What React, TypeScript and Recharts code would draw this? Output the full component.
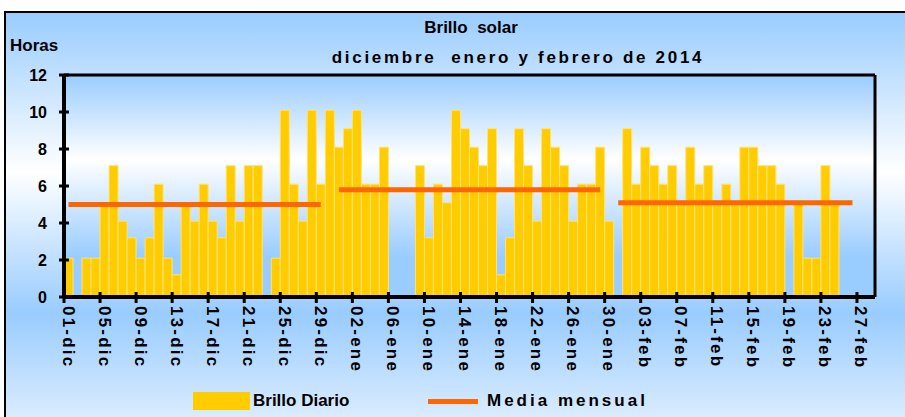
import { ComposedChart, Bar, Line, XAxis, YAxis, CartesianGrid, ReferenceLine, Legend } from "recharts";

// dias del periodo (categorias del eje X)
const dias = [
  "01-dic", "02-dic", "03-dic", "04-dic", "05-dic", "06-dic", "07-dic", "08-dic", "09-dic", "10-dic",
  "11-dic", "12-dic", "13-dic", "14-dic", "15-dic", "16-dic", "17-dic", "18-dic", "19-dic", "20-dic",
  "21-dic", "22-dic", "23-dic", "24-dic", "25-dic", "26-dic", "27-dic", "28-dic", "29-dic", "30-dic",
  "31-dic", "01-ene", "02-ene", "03-ene", "04-ene", "05-ene", "06-ene", "07-ene", "08-ene", "09-ene",
  "10-ene", "11-ene", "12-ene", "13-ene", "14-ene", "15-ene", "16-ene", "17-ene", "18-ene", "19-ene",
  "20-ene", "21-ene", "22-ene", "23-ene", "24-ene", "25-ene", "26-ene", "27-ene", "28-ene", "29-ene",
  "30-ene", "31-ene", "01-feb", "02-feb", "03-feb", "04-feb", "05-feb", "06-feb", "07-feb", "08-feb",
  "09-feb", "10-feb", "11-feb", "12-feb", "13-feb", "14-feb", "15-feb", "16-feb", "17-feb", "18-feb",
  "19-feb", "20-feb", "21-feb", "22-feb", "23-feb", "24-feb", "25-feb", "26-feb", "27-feb", "28-feb",
];

// horas de brillo solar por dia (null = sin dato)
const brilloDiario = [
  2.1, null, 2.1, 2.1, 5.0, 7.1, 4.1, 3.2, 2.1, 3.2,
  6.1, 2.1, 1.2, 5.0, 4.1, 6.1, 4.1, 3.2, 7.1, 4.1,
  7.1, 7.1, null, 2.1, 10.1, 6.1, 4.1, 10.1, 6.1, 10.1,
  8.1, 9.1, 10.1, 6.1, 6.1, 8.1, null, null, null, 7.1,
  3.2, 6.1, 5.1, 10.1, 9.1, 8.1, 7.1, 9.1, 1.2, 3.2,
  9.1, 7.1, 4.1, 9.1, 8.1, 7.1, 4.1, 6.1, 6.1, 8.1,
  4.1, null, 9.1, 6.1, 8.1, 7.1, 6.1, 7.1, 5.1, 8.1,
  6.1, 7.1, 5.1, 6.1, 5.1, 8.1, 8.1, 7.1, 7.1, 6.1,
  null, 5.1, 2.1, 2.1, 7.1, 5.1, null, null, null, null,
];

// media mensual (tramos por mes)
const mediaMensual = [
  5.0, 5.0, 5.0, 5.0, 5.0, 5.0, 5.0, 5.0, 5.0, 5.0,
  5.0, 5.0, 5.0, 5.0, 5.0, 5.0, 5.0, 5.0, 5.0, 5.0,
  5.0, 5.0, 5.0, 5.0, 5.0, 5.0, 5.0, 5.0, 5.0, null,
  5.8, 5.8, 5.8, 5.8, 5.8, 5.8, 5.8, 5.8, 5.8, 5.8,
  5.8, 5.8, 5.8, 5.8, 5.8, 5.8, 5.8, 5.8, 5.8, 5.8,
  5.8, 5.8, 5.8, 5.8, 5.8, 5.8, 5.8, 5.8, 5.8, 5.8,
  null, 5.1, 5.1, 5.1, 5.1, 5.1, 5.1, 5.1, 5.1, 5.1,
  5.1, 5.1, 5.1, 5.1, 5.1, 5.1, 5.1, 5.1, 5.1, 5.1,
  5.1, 5.1, 5.1, 5.1, 5.1, 5.1, 5.1, 5.1, null, null,
];

const yTicks = [0, 2, 4, 6, 8, 10, 12];

const data = dias.map((dia, i) => ({ dia, brillo: brilloDiario[i], media: mediaMensual[i] }));

const W = 905;
const H = 417;
const MARGIN = { top: 75, right: 30, bottom: 40, left: 10 };
const Y_AXIS_W = 54;
const PLOT_W = W - MARGIN.left - MARGIN.right - Y_AXIS_W;
const BAND = PLOT_W / dias.length;
const FONT = "'Liberation Sans', Arial, sans-serif";

function XTick(props: any) {
  const { x, y, payload } = props;
  const bx = x - BAND / 2;
  return (
    <g>
      <line x1={bx} x2={bx} y1={y - 5} y2={y + 6} stroke="#000" strokeWidth={3} />
      <text
        transform={`translate(${bx + 4}, ${y + 9}) rotate(90)`}
        textAnchor="start"
        dominantBaseline="central"
        fontFamily={FONT}
        fontWeight="bold"
        fontSize={17}
        letterSpacing={2.2}
        fill="#000"
      >
        {payload.value}
      </text>
    </g>
  );
}

function YTick(props: any) {
  const { x, y, payload } = props;
  return (
    <g>
      <line x1={x - 5} x2={x + 5} y1={y} y2={y} stroke="#000" strokeWidth={3} />
      <text x={x - 17} y={y} textAnchor="end" dominantBaseline="central" fontFamily={FONT} fontWeight="bold" fontSize={16} fill="#000">
        {payload.value}
      </text>
    </g>
  );
}

function LegendBox() {
  const txt = { position: "absolute" as const, top: 0, lineHeight: "20px", fontFamily: FONT, fontWeight: "bold", fontSize: 17, color: "#000", whiteSpace: "pre" as const };
  return (
    <div style={{ position: "relative", width: W, height: 24 }}>
      <div style={{ position: "absolute", left: 193, top: 1, width: 57, height: 18, background: "#FFCC00" }} />
      <div style={{ ...txt, left: 253 }}>Brillo Diario</div>
      <div style={{ position: "absolute", left: 428, top: 8, width: 50, height: 5, background: "#FF6600" }} />
      <div style={{ ...txt, left: 487, letterSpacing: 3 }}>Media mensual</div>
    </div>
  );
}

export default function App() {
  const title = { position: "absolute" as const, lineHeight: "20px", fontFamily: FONT, fontWeight: "bold", fontSize: 16, color: "#000", whiteSpace: "pre" as const, textAlign: "center" as const };
  return (
    <div style={{ position: "fixed", left: 0, top: 0, width: W, height: H, overflow: "hidden", background: "#fff" }}>
      <svg width={0} height={0} style={{ position: "absolute" }}>
        <defs>
          <linearGradient id="plotBg" x1="0" y1="0" x2="0" y2="1">
            <stop offset="0%" stopColor="#99CCFF" />
            <stop offset="38%" stopColor="#FFFFFF" />
            <stop offset="82%" stopColor="#99CCFF" />
            <stop offset="100%" stopColor="#99CCFF" />
          </linearGradient>
        </defs>
      </svg>
      <div
        style={{
          position: "absolute",
          left: 4,
          top: 11,
          width: W + 10,
          height: H,
          border: "2px solid #000",
          background: "linear-gradient(180deg, #99CCFF 0%, #FFFFFF 38%, #99CCFF 72%, #E2F0FF 100%)",
        }}
      />
      <div style={{ ...title, left: 271, width: 400, top: 18, fontSize: 17 }}>Brillo  solar</div>
      <div style={{ ...title, left: 268, width: 500, top: 48, fontSize: 17, letterSpacing: 2.7 }}>diciembre  enero y febrero de 2014</div>
      <div style={{ ...title, left: 10, top: 36, textAlign: "left", fontSize: 17 }}>Horas</div>
      <div style={{ position: "absolute", left: 0, top: 0 }}>
        <ComposedChart width={W} height={H} data={data} margin={MARGIN} barCategoryGap={0} barGap={0}>
          <CartesianGrid horizontal={false} vertical={false} fill="url(#plotBg)" stroke="none" />
          <XAxis
            dataKey="dia"
            interval={3}
            height={80}
            tickSize={0}
            tickMargin={0}
            tick={<XTick />}
            axisLine={{ stroke: "#000", strokeWidth: 4 }}
            tickLine={false}
          />
          <YAxis
            domain={[0, 12]}
            ticks={yTicks}
            width={Y_AXIS_W}
            tickSize={0}
            tickMargin={0}
            tick={<YTick />}
            axisLine={{ stroke: "#000", strokeWidth: 4 }}
            tickLine={false}
          />
          <ReferenceLine y={12} stroke="#000" strokeWidth={3} />
          <ReferenceLine x={dias[dias.length - 1]} position="end" stroke="#000" strokeWidth={3} />
          <Bar dataKey="brillo" name="Brillo Diario" fill="#FFCC00" stroke="#FFE27A" strokeWidth={1} isAnimationActive={false} />
          <Line
            dataKey="media"
            name="Media mensual"
            type="linear"
            stroke="#FF6600"
            strokeWidth={5}
            dot={false}
            activeDot={false}
            connectNulls={false}
            isAnimationActive={false}
          />
          <Legend
            layout="horizontal"
            verticalAlign="middle"
            align="center"
            wrapperStyle={{ left: 0, top: 391, width: W, height: 24 }}
            content={() => <LegendBox />}
          />
        </ComposedChart>
      </div>
    </div>
  );
}
